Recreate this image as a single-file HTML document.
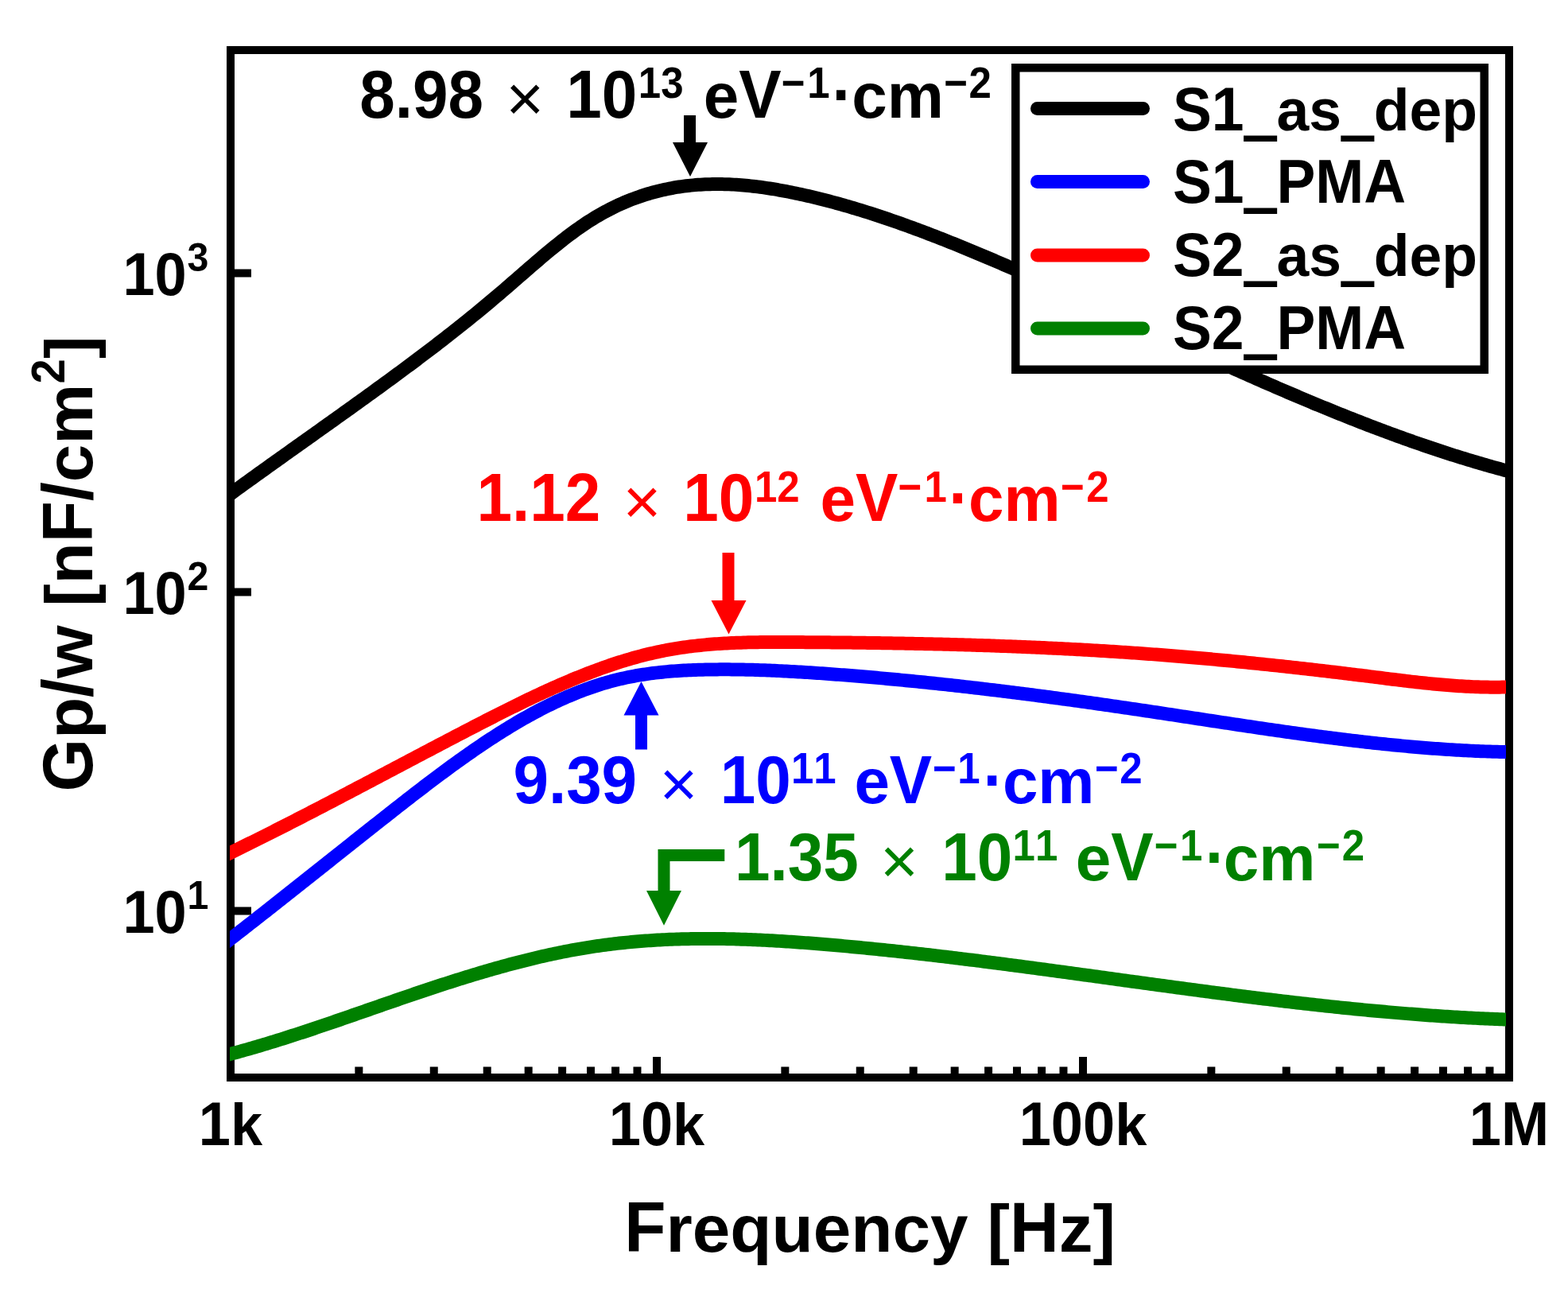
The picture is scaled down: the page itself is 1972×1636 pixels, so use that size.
<!DOCTYPE html>
<html><head><meta charset="utf-8"><title>Gp/w vs Frequency</title>
<style>html,body{margin:0;padding:0;background:#fff;overflow:hidden;}svg{display:block;}
text{font-family:"Liberation Sans",Arial,Helvetica,sans-serif;font-kerning:none;white-space:pre;}</style></head>
<body>
<svg width="1972" height="1636" viewBox="0 0 1972 1636">
<rect x="0" y="0" width="1972" height="1636" fill="#fff"/>
<rect x="290" y="63" width="1608" height="1292" fill="none" stroke="#000" stroke-width="10"/>
<g fill="#000">
<rect x="446.35" y="1341.5" width="10" height="9"/>
<rect x="540.74" y="1341.5" width="10" height="9"/>
<rect x="607.70" y="1341.5" width="10" height="9"/>
<rect x="659.65" y="1341.5" width="10" height="9"/>
<rect x="702.09" y="1341.5" width="10" height="9"/>
<rect x="737.97" y="1341.5" width="10" height="9"/>
<rect x="769.06" y="1341.5" width="10" height="9"/>
<rect x="796.47" y="1341.5" width="10" height="9"/>
<rect x="982.35" y="1341.5" width="10" height="9"/>
<rect x="1076.74" y="1341.5" width="10" height="9"/>
<rect x="1143.70" y="1341.5" width="10" height="9"/>
<rect x="1195.65" y="1341.5" width="10" height="9"/>
<rect x="1238.09" y="1341.5" width="10" height="9"/>
<rect x="1273.97" y="1341.5" width="10" height="9"/>
<rect x="1305.06" y="1341.5" width="10" height="9"/>
<rect x="1332.47" y="1341.5" width="10" height="9"/>
<rect x="1518.35" y="1341.5" width="10" height="9"/>
<rect x="1612.74" y="1341.5" width="10" height="9"/>
<rect x="1679.70" y="1341.5" width="10" height="9"/>
<rect x="1731.65" y="1341.5" width="10" height="9"/>
<rect x="1774.09" y="1341.5" width="10" height="9"/>
<rect x="1809.97" y="1341.5" width="10" height="9"/>
<rect x="1841.06" y="1341.5" width="10" height="9"/>
<rect x="1868.47" y="1341.5" width="10" height="9"/>
<rect x="821.00" y="1329" width="10" height="22"/>
<rect x="1357.00" y="1329" width="10" height="22"/>
<rect x="294" y="338.50" width="22" height="10"/>
<rect x="294" y="739.50" width="22" height="10"/>
<rect x="294" y="1140.50" width="22" height="10"/>
</g>
<defs><clipPath id="pc"><rect x="289" y="0" width="1605" height="1636"/></clipPath></defs>
<g clip-path="url(#pc)">
<path d="M284.0,625.40 L290.0,621.03 L293.0,618.85 L296.0,616.67 L299.0,614.49 L302.0,612.32 L305.0,610.15 L308.0,607.98 L311.0,605.81 L314.0,603.65 L317.0,601.49 L320.0,599.33 L323.0,597.18 L326.0,595.02 L329.0,592.87 L332.0,590.72 L335.0,588.57 L338.0,586.43 L341.0,584.28 L344.0,582.14 L347.0,580.00 L350.0,577.86 L353.0,575.72 L356.0,573.58 L359.0,571.44 L362.0,569.31 L365.0,567.17 L368.0,565.04 L371.0,562.90 L374.0,560.77 L377.0,558.63 L380.0,556.50 L383.0,554.37 L386.0,552.24 L389.0,550.10 L392.0,547.97 L395.0,545.84 L398.0,543.70 L401.0,541.57 L404.0,539.43 L407.0,537.30 L410.0,535.16 L413.0,533.02 L416.0,530.89 L419.0,528.75 L422.0,526.61 L425.0,524.46 L428.0,522.32 L431.0,520.18 L434.0,518.03 L437.0,515.88 L440.0,513.73 L443.0,511.58 L446.0,509.42 L449.0,507.27 L452.0,505.11 L455.0,502.95 L458.0,500.79 L461.0,498.62 L464.0,496.45 L467.0,494.28 L470.0,492.11 L473.0,489.93 L476.0,487.75 L479.0,485.56 L482.0,483.38 L485.0,481.19 L488.0,478.99 L491.0,476.80 L494.0,474.59 L497.0,472.39 L500.0,470.18 L503.0,467.97 L506.0,465.75 L509.0,463.53 L512.0,461.30 L515.0,459.07 L518.0,456.83 L521.0,454.59 L524.0,452.34 L527.0,450.08 L530.0,447.82 L533.0,445.56 L536.0,443.28 L539.0,441.00 L542.0,438.72 L545.0,436.43 L548.0,434.13 L551.0,431.82 L554.0,429.50 L557.0,427.18 L560.0,424.85 L563.0,422.52 L566.0,420.17 L569.0,417.82 L572.0,415.45 L575.0,413.08 L578.0,410.70 L581.0,408.32 L584.0,405.92 L587.0,403.51 L590.0,401.09 L593.0,398.67 L596.0,396.23 L599.0,393.79 L602.0,391.33 L605.0,388.86 L608.0,386.38 L611.0,383.90 L614.0,381.40 L617.0,378.89 L620.0,376.36 L623.0,373.83 L626.0,371.29 L629.0,368.73 L632.0,366.16 L635.0,363.58 L638.0,360.99 L641.0,358.39 L644.0,355.79 L647.0,353.18 L650.0,350.57 L653.0,347.96 L656.0,345.34 L659.0,342.73 L662.0,340.13 L665.0,337.52 L668.0,334.93 L671.0,332.34 L674.0,329.76 L677.0,327.19 L680.0,324.64 L683.0,322.10 L686.0,319.58 L689.0,317.07 L692.0,314.58 L695.0,312.12 L698.0,309.67 L701.0,307.26 L704.0,304.86 L707.0,302.50 L710.0,300.16 L713.0,297.85 L716.0,295.58 L719.0,293.33 L722.0,291.13 L725.0,288.96 L728.0,286.83 L731.0,284.74 L734.0,282.69 L737.0,280.68 L740.0,278.72 L743.0,276.81 L746.0,274.94 L749.0,273.11 L752.0,271.33 L755.0,269.60 L758.0,267.91 L761.0,266.27 L764.0,264.67 L767.0,263.11 L770.0,261.59 L773.0,260.12 L776.0,258.69 L779.0,257.30 L782.0,255.95 L785.0,254.65 L788.0,253.38 L791.0,252.16 L794.0,250.97 L797.0,249.82 L800.0,248.72 L803.0,247.65 L806.0,246.62 L809.0,245.63 L812.0,244.67 L815.0,243.75 L818.0,242.87 L821.0,242.03 L824.0,241.22 L827.0,240.44 L830.0,239.71 L833.0,239.00 L836.0,238.33 L839.0,237.70 L842.0,237.10 L845.0,236.53 L848.0,235.99 L851.0,235.49 L854.0,235.02 L857.0,234.58 L860.0,234.17 L863.0,233.79 L866.0,233.45 L869.0,233.13 L872.0,232.84 L875.0,232.58 L878.0,232.35 L881.0,232.15 L884.0,231.98 L887.0,231.84 L890.0,231.72 L893.0,231.63 L896.0,231.57 L899.0,231.53 L902.0,231.52 L905.0,231.53 L908.0,231.57 L911.0,231.64 L914.0,231.72 L917.0,231.84 L920.0,231.97 L923.0,232.13 L926.0,232.31 L929.0,232.51 L932.0,232.74 L935.0,232.99 L938.0,233.25 L941.0,233.54 L944.0,233.85 L947.0,234.18 L950.0,234.53 L953.0,234.90 L956.0,235.29 L959.0,235.69 L962.0,236.11 L965.0,236.56 L968.0,237.01 L971.0,237.49 L974.0,237.98 L977.0,238.49 L980.0,239.01 L983.0,239.55 L986.0,240.11 L989.0,240.67 L992.0,241.26 L995.0,241.85 L998.0,242.46 L1001.0,243.09 L1004.0,243.72 L1007.0,244.37 L1010.0,245.03 L1013.0,245.70 L1016.0,246.38 L1019.0,247.08 L1022.0,247.79 L1025.0,248.51 L1028.0,249.23 L1031.0,249.98 L1034.0,250.73 L1037.0,251.49 L1040.0,252.27 L1043.0,253.05 L1046.0,253.85 L1049.0,254.65 L1052.0,255.47 L1055.0,256.30 L1058.0,257.14 L1061.0,257.98 L1064.0,258.84 L1067.0,259.71 L1070.0,260.59 L1073.0,261.48 L1076.0,262.37 L1079.0,263.28 L1082.0,264.20 L1085.0,265.12 L1088.0,266.06 L1091.0,267.00 L1094.0,267.96 L1097.0,268.92 L1100.0,269.89 L1103.0,270.87 L1106.0,271.86 L1109.0,272.86 L1112.0,273.87 L1115.0,274.88 L1118.0,275.90 L1121.0,276.93 L1124.0,277.97 L1127.0,279.02 L1130.0,280.07 L1133.0,281.13 L1136.0,282.20 L1139.0,283.28 L1142.0,284.37 L1145.0,285.46 L1148.0,286.56 L1151.0,287.66 L1154.0,288.78 L1157.0,289.90 L1160.0,291.02 L1163.0,292.16 L1166.0,293.30 L1169.0,294.44 L1172.0,295.59 L1175.0,296.75 L1178.0,297.92 L1181.0,299.09 L1184.0,300.27 L1187.0,301.45 L1190.0,302.64 L1193.0,303.83 L1196.0,305.03 L1199.0,306.24 L1202.0,307.45 L1205.0,308.66 L1208.0,309.88 L1211.0,311.11 L1214.0,312.34 L1217.0,313.57 L1220.0,314.81 L1223.0,316.05 L1226.0,317.30 L1229.0,318.56 L1232.0,319.81 L1235.0,321.07 L1238.0,322.34 L1241.0,323.61 L1244.0,324.88 L1247.0,326.16 L1250.0,327.44 L1253.0,328.72 L1256.0,330.01 L1259.0,331.30 L1262.0,332.59 L1265.0,333.89 L1268.0,335.19 L1271.0,336.49 L1274.0,337.79 L1277.0,339.10 L1280.0,340.41 L1283.0,341.72 L1286.0,343.04 L1289.0,344.36 L1292.0,345.68 L1295.0,347.00 L1298.0,348.32 L1301.0,349.65 L1304.0,350.98 L1307.0,352.31 L1310.0,353.65 L1313.0,354.98 L1316.0,356.32 L1319.0,357.66 L1322.0,359.00 L1325.0,360.35 L1328.0,361.69 L1331.0,363.04 L1334.0,364.39 L1337.0,365.74 L1340.0,367.09 L1343.0,368.44 L1346.0,369.80 L1349.0,371.16 L1352.0,372.51 L1355.0,373.87 L1358.0,375.23 L1361.0,376.60 L1364.0,377.96 L1367.0,379.32 L1370.0,380.69 L1373.0,382.06 L1376.0,383.43 L1379.0,384.79 L1382.0,386.16 L1385.0,387.53 L1388.0,388.91 L1391.0,390.28 L1394.0,391.65 L1397.0,393.03 L1400.0,394.40 L1403.0,395.78 L1406.0,397.15 L1409.0,398.53 L1412.0,399.90 L1415.0,401.28 L1418.0,402.66 L1421.0,404.03 L1424.0,405.41 L1427.0,406.79 L1430.0,408.17 L1433.0,409.55 L1436.0,410.92 L1439.0,412.30 L1442.0,413.68 L1445.0,415.06 L1448.0,416.44 L1451.0,417.81 L1454.0,419.19 L1457.0,420.57 L1460.0,421.94 L1463.0,423.32 L1466.0,424.70 L1469.0,426.07 L1472.0,427.45 L1475.0,428.82 L1478.0,430.19 L1481.0,431.57 L1484.0,432.94 L1487.0,434.31 L1490.0,435.68 L1493.0,437.05 L1496.0,438.42 L1499.0,439.79 L1502.0,441.15 L1505.0,442.52 L1508.0,443.88 L1511.0,445.24 L1514.0,446.61 L1517.0,447.97 L1520.0,449.33 L1523.0,450.68 L1526.0,452.04 L1529.0,453.39 L1532.0,454.75 L1535.0,456.10 L1538.0,457.45 L1541.0,458.80 L1544.0,460.14 L1547.0,461.49 L1550.0,462.83 L1553.0,464.17 L1556.0,465.51 L1559.0,466.85 L1562.0,468.18 L1565.0,469.51 L1568.0,470.85 L1571.0,472.17 L1574.0,473.50 L1577.0,474.82 L1580.0,476.15 L1583.0,477.46 L1586.0,478.78 L1589.0,480.10 L1592.0,481.41 L1595.0,482.72 L1598.0,484.02 L1601.0,485.33 L1604.0,486.63 L1607.0,487.93 L1610.0,489.22 L1613.0,490.51 L1616.0,491.80 L1619.0,493.09 L1622.0,494.37 L1625.0,495.65 L1628.0,496.93 L1631.0,498.20 L1634.0,499.47 L1637.0,500.74 L1640.0,502.01 L1643.0,503.27 L1646.0,504.52 L1649.0,505.78 L1652.0,507.03 L1655.0,508.27 L1658.0,509.52 L1661.0,510.76 L1664.0,511.99 L1667.0,513.22 L1670.0,514.45 L1673.0,515.68 L1676.0,516.90 L1679.0,518.11 L1682.0,519.32 L1685.0,520.53 L1688.0,521.74 L1691.0,522.94 L1694.0,524.13 L1697.0,525.32 L1700.0,526.51 L1703.0,527.69 L1706.0,528.87 L1709.0,530.04 L1712.0,531.21 L1715.0,532.38 L1718.0,533.54 L1721.0,534.69 L1724.0,535.84 L1727.0,536.99 L1730.0,538.13 L1733.0,539.26 L1736.0,540.40 L1739.0,541.52 L1742.0,542.64 L1745.0,543.76 L1748.0,544.87 L1751.0,545.97 L1754.0,547.07 L1757.0,548.17 L1760.0,549.26 L1763.0,550.34 L1766.0,551.42 L1769.0,552.50 L1772.0,553.56 L1775.0,554.63 L1778.0,555.68 L1781.0,556.73 L1784.0,557.78 L1787.0,558.82 L1790.0,559.85 L1793.0,560.88 L1796.0,561.90 L1799.0,562.92 L1802.0,563.93 L1805.0,564.93 L1808.0,565.93 L1811.0,566.92 L1814.0,567.90 L1817.0,568.88 L1820.0,569.86 L1823.0,570.82 L1826.0,571.78 L1829.0,572.73 L1832.0,573.68 L1835.0,574.62 L1838.0,575.56 L1841.0,576.48 L1844.0,577.40 L1847.0,578.32 L1850.0,579.22 L1853.0,580.12 L1856.0,581.01 L1859.0,581.90 L1862.0,582.78 L1865.0,583.65 L1868.0,584.52 L1871.0,585.37 L1874.0,586.22 L1877.0,587.07 L1880.0,587.90 L1883.0,588.73 L1886.0,589.55 L1889.0,590.36 L1892.0,591.17 L1894.0,591.70 L1900.0,593.30" fill="none" stroke="#000" stroke-width="17" stroke-linejoin="round"/>
<path d="M284.0,1185.30 L290.0,1180.65 L293.0,1178.31 L296.0,1175.98 L299.0,1173.64 L302.0,1171.31 L305.0,1168.97 L308.0,1166.62 L311.0,1164.28 L314.0,1161.93 L317.0,1159.58 L320.0,1157.23 L323.0,1154.88 L326.0,1152.52 L329.0,1150.17 L332.0,1147.81 L335.0,1145.45 L338.0,1143.09 L341.0,1140.72 L344.0,1138.36 L347.0,1135.99 L350.0,1133.63 L353.0,1131.26 L356.0,1128.89 L359.0,1126.52 L362.0,1124.15 L365.0,1121.77 L368.0,1119.40 L371.0,1117.03 L374.0,1114.65 L377.0,1112.27 L380.0,1109.90 L383.0,1107.52 L386.0,1105.14 L389.0,1102.76 L392.0,1100.38 L395.0,1098.00 L398.0,1095.62 L401.0,1093.24 L404.0,1090.86 L407.0,1088.48 L410.0,1086.10 L413.0,1083.72 L416.0,1081.34 L419.0,1078.95 L422.0,1076.57 L425.0,1074.19 L428.0,1071.81 L431.0,1069.43 L434.0,1067.05 L437.0,1064.67 L440.0,1062.29 L443.0,1059.91 L446.0,1057.54 L449.0,1055.16 L452.0,1052.78 L455.0,1050.41 L458.0,1048.03 L461.0,1045.66 L464.0,1043.29 L467.0,1040.91 L470.0,1038.54 L473.0,1036.17 L476.0,1033.81 L479.0,1031.44 L482.0,1029.07 L485.0,1026.71 L488.0,1024.35 L491.0,1021.99 L494.0,1019.63 L497.0,1017.28 L500.0,1014.92 L503.0,1012.58 L506.0,1010.23 L509.0,1007.89 L512.0,1005.56 L515.0,1003.23 L518.0,1000.90 L521.0,998.58 L524.0,996.27 L527.0,993.96 L530.0,991.66 L533.0,989.37 L536.0,987.08 L539.0,984.80 L542.0,982.53 L545.0,980.26 L548.0,978.01 L551.0,975.76 L554.0,973.52 L557.0,971.30 L560.0,969.08 L563.0,966.87 L566.0,964.67 L569.0,962.49 L572.0,960.31 L575.0,958.14 L578.0,955.99 L581.0,953.85 L584.0,951.72 L587.0,949.61 L590.0,947.50 L593.0,945.41 L596.0,943.34 L599.0,941.28 L602.0,939.23 L605.0,937.19 L608.0,935.18 L611.0,933.17 L614.0,931.19 L617.0,929.22 L620.0,927.26 L623.0,925.32 L626.0,923.40 L629.0,921.50 L632.0,919.61 L635.0,917.74 L638.0,915.89 L641.0,914.06 L644.0,912.25 L647.0,910.45 L650.0,908.68 L653.0,906.92 L656.0,905.19 L659.0,903.48 L662.0,901.78 L665.0,900.11 L668.0,898.46 L671.0,896.83 L674.0,895.22 L677.0,893.63 L680.0,892.06 L683.0,890.52 L686.0,889.00 L689.0,887.50 L692.0,886.02 L695.0,884.57 L698.0,883.14 L701.0,881.73 L704.0,880.35 L707.0,878.99 L710.0,877.66 L713.0,876.34 L716.0,875.06 L719.0,873.80 L722.0,872.56 L725.0,871.35 L728.0,870.16 L731.0,869.00 L734.0,867.86 L737.0,866.75 L740.0,865.67 L743.0,864.62 L746.0,863.59 L749.0,862.58 L752.0,861.61 L755.0,860.66 L758.0,859.74 L761.0,858.84 L764.0,857.98 L767.0,857.14 L770.0,856.33 L773.0,855.55 L776.0,854.80 L779.0,854.07 L782.0,853.38 L785.0,852.71 L788.0,852.06 L791.0,851.44 L794.0,850.85 L797.0,850.28 L800.0,849.73 L803.0,849.21 L806.0,848.71 L809.0,848.24 L812.0,847.78 L815.0,847.35 L818.0,846.94 L821.0,846.55 L824.0,846.18 L827.0,845.82 L830.0,845.49 L833.0,845.18 L836.0,844.88 L839.0,844.60 L842.0,844.34 L845.0,844.09 L848.0,843.87 L851.0,843.65 L854.0,843.45 L857.0,843.27 L860.0,843.10 L863.0,842.94 L866.0,842.80 L869.0,842.66 L872.0,842.54 L875.0,842.43 L878.0,842.34 L881.0,842.25 L884.0,842.17 L887.0,842.10 L890.0,842.04 L893.0,841.99 L896.0,841.95 L899.0,841.92 L902.0,841.89 L905.0,841.87 L908.0,841.86 L911.0,841.86 L914.0,841.86 L917.0,841.87 L920.0,841.89 L923.0,841.92 L926.0,841.95 L929.0,841.99 L932.0,842.04 L935.0,842.09 L938.0,842.15 L941.0,842.22 L944.0,842.29 L947.0,842.37 L950.0,842.46 L953.0,842.55 L956.0,842.64 L959.0,842.75 L962.0,842.86 L965.0,842.97 L968.0,843.09 L971.0,843.21 L974.0,843.34 L977.0,843.48 L980.0,843.62 L983.0,843.76 L986.0,843.91 L989.0,844.07 L992.0,844.23 L995.0,844.39 L998.0,844.56 L1001.0,844.73 L1004.0,844.90 L1007.0,845.08 L1010.0,845.26 L1013.0,845.45 L1016.0,845.64 L1019.0,845.84 L1022.0,846.03 L1025.0,846.23 L1028.0,846.44 L1031.0,846.64 L1034.0,846.85 L1037.0,847.06 L1040.0,847.28 L1043.0,847.49 L1046.0,847.71 L1049.0,847.93 L1052.0,848.16 L1055.0,848.38 L1058.0,848.61 L1061.0,848.84 L1064.0,849.08 L1067.0,849.31 L1070.0,849.55 L1073.0,849.79 L1076.0,850.04 L1079.0,850.28 L1082.0,850.53 L1085.0,850.78 L1088.0,851.03 L1091.0,851.29 L1094.0,851.55 L1097.0,851.80 L1100.0,852.07 L1103.0,852.33 L1106.0,852.60 L1109.0,852.87 L1112.0,853.14 L1115.0,853.41 L1118.0,853.68 L1121.0,853.96 L1124.0,854.24 L1127.0,854.52 L1130.0,854.81 L1133.0,855.09 L1136.0,855.38 L1139.0,855.67 L1142.0,855.96 L1145.0,856.26 L1148.0,856.55 L1151.0,856.85 L1154.0,857.15 L1157.0,857.46 L1160.0,857.76 L1163.0,858.07 L1166.0,858.38 L1169.0,858.69 L1172.0,859.00 L1175.0,859.31 L1178.0,859.63 L1181.0,859.95 L1184.0,860.27 L1187.0,860.59 L1190.0,860.92 L1193.0,861.24 L1196.0,861.57 L1199.0,861.90 L1202.0,862.24 L1205.0,862.57 L1208.0,862.91 L1211.0,863.24 L1214.0,863.58 L1217.0,863.93 L1220.0,864.27 L1223.0,864.61 L1226.0,864.96 L1229.0,865.31 L1232.0,865.66 L1235.0,866.01 L1238.0,866.37 L1241.0,866.72 L1244.0,867.08 L1247.0,867.44 L1250.0,867.80 L1253.0,868.16 L1256.0,868.53 L1259.0,868.89 L1262.0,869.26 L1265.0,869.63 L1268.0,870.00 L1271.0,870.37 L1274.0,870.75 L1277.0,871.13 L1280.0,871.50 L1283.0,871.88 L1286.0,872.26 L1289.0,872.65 L1292.0,873.03 L1295.0,873.41 L1298.0,873.80 L1301.0,874.19 L1304.0,874.58 L1307.0,874.97 L1310.0,875.36 L1313.0,875.76 L1316.0,876.15 L1319.0,876.55 L1322.0,876.95 L1325.0,877.35 L1328.0,877.75 L1331.0,878.16 L1334.0,878.56 L1337.0,878.97 L1340.0,879.37 L1343.0,879.78 L1346.0,880.19 L1349.0,880.60 L1352.0,881.02 L1355.0,881.43 L1358.0,881.85 L1361.0,882.26 L1364.0,882.68 L1367.0,883.10 L1370.0,883.52 L1373.0,883.94 L1376.0,884.37 L1379.0,884.79 L1382.0,885.22 L1385.0,885.64 L1388.0,886.07 L1391.0,886.50 L1394.0,886.93 L1397.0,887.36 L1400.0,887.79 L1403.0,888.23 L1406.0,888.66 L1409.0,889.10 L1412.0,889.54 L1415.0,889.98 L1418.0,890.41 L1421.0,890.86 L1424.0,891.30 L1427.0,891.74 L1430.0,892.18 L1433.0,892.63 L1436.0,893.07 L1439.0,893.52 L1442.0,893.97 L1445.0,894.42 L1448.0,894.87 L1451.0,895.32 L1454.0,895.77 L1457.0,896.22 L1460.0,896.67 L1463.0,897.13 L1466.0,897.58 L1469.0,898.04 L1472.0,898.49 L1475.0,898.95 L1478.0,899.40 L1481.0,899.86 L1484.0,900.32 L1487.0,900.78 L1490.0,901.23 L1493.0,901.69 L1496.0,902.15 L1499.0,902.61 L1502.0,903.07 L1505.0,903.52 L1508.0,903.98 L1511.0,904.44 L1514.0,904.90 L1517.0,905.36 L1520.0,905.81 L1523.0,906.27 L1526.0,906.73 L1529.0,907.18 L1532.0,907.64 L1535.0,908.10 L1538.0,908.55 L1541.0,909.01 L1544.0,909.46 L1547.0,909.92 L1550.0,910.37 L1553.0,910.82 L1556.0,911.27 L1559.0,911.72 L1562.0,912.17 L1565.0,912.62 L1568.0,913.07 L1571.0,913.52 L1574.0,913.96 L1577.0,914.41 L1580.0,914.85 L1583.0,915.29 L1586.0,915.73 L1589.0,916.17 L1592.0,916.61 L1595.0,917.05 L1598.0,917.48 L1601.0,917.92 L1604.0,918.35 L1607.0,918.78 L1610.0,919.21 L1613.0,919.64 L1616.0,920.07 L1619.0,920.49 L1622.0,920.91 L1625.0,921.33 L1628.0,921.75 L1631.0,922.17 L1634.0,922.58 L1637.0,923.00 L1640.0,923.41 L1643.0,923.82 L1646.0,924.22 L1649.0,924.63 L1652.0,925.03 L1655.0,925.43 L1658.0,925.82 L1661.0,926.22 L1664.0,926.61 L1667.0,927.00 L1670.0,927.39 L1673.0,927.77 L1676.0,928.15 L1679.0,928.53 L1682.0,928.91 L1685.0,929.28 L1688.0,929.65 L1691.0,930.02 L1694.0,930.38 L1697.0,930.75 L1700.0,931.10 L1703.0,931.46 L1706.0,931.81 L1709.0,932.16 L1712.0,932.51 L1715.0,932.85 L1718.0,933.19 L1721.0,933.53 L1724.0,933.86 L1727.0,934.19 L1730.0,934.51 L1733.0,934.84 L1736.0,935.15 L1739.0,935.47 L1742.0,935.78 L1745.0,936.09 L1748.0,936.39 L1751.0,936.69 L1754.0,936.99 L1757.0,937.28 L1760.0,937.57 L1763.0,937.85 L1766.0,938.13 L1769.0,938.41 L1772.0,938.68 L1775.0,938.94 L1778.0,939.21 L1781.0,939.47 L1784.0,939.72 L1787.0,939.97 L1790.0,940.22 L1793.0,940.46 L1796.0,940.69 L1799.0,940.93 L1802.0,941.15 L1805.0,941.37 L1808.0,941.59 L1811.0,941.81 L1814.0,942.01 L1817.0,942.22 L1820.0,942.41 L1823.0,942.61 L1826.0,942.80 L1829.0,942.98 L1832.0,943.16 L1835.0,943.33 L1838.0,943.50 L1841.0,943.66 L1844.0,943.82 L1847.0,943.97 L1850.0,944.12 L1853.0,944.26 L1856.0,944.39 L1859.0,944.52 L1862.0,944.65 L1865.0,944.76 L1868.0,944.88 L1871.0,944.98 L1874.0,945.09 L1877.0,945.18 L1880.0,945.27 L1883.0,945.35 L1886.0,945.43 L1889.0,945.50 L1892.0,945.57 L1894.0,945.61 L1900.0,945.73" fill="none" stroke="#00f" stroke-width="17" stroke-linejoin="round"/>
<path d="M284.0,1075.17 L290.0,1072.26 L293.0,1070.80 L296.0,1069.33 L299.0,1067.86 L302.0,1066.39 L305.0,1064.92 L308.0,1063.44 L311.0,1061.96 L314.0,1060.48 L317.0,1058.99 L320.0,1057.50 L323.0,1056.01 L326.0,1054.51 L329.0,1053.01 L332.0,1051.51 L335.0,1050.00 L338.0,1048.49 L341.0,1046.98 L344.0,1045.47 L347.0,1043.95 L350.0,1042.43 L353.0,1040.91 L356.0,1039.38 L359.0,1037.86 L362.0,1036.33 L365.0,1034.79 L368.0,1033.26 L371.0,1031.72 L374.0,1030.18 L377.0,1028.64 L380.0,1027.10 L383.0,1025.55 L386.0,1024.01 L389.0,1022.46 L392.0,1020.91 L395.0,1019.35 L398.0,1017.80 L401.0,1016.24 L404.0,1014.68 L407.0,1013.12 L410.0,1011.56 L413.0,1010.00 L416.0,1008.43 L419.0,1006.87 L422.0,1005.30 L425.0,1003.73 L428.0,1002.16 L431.0,1000.59 L434.0,999.02 L437.0,997.45 L440.0,995.87 L443.0,994.30 L446.0,992.72 L449.0,991.14 L452.0,989.57 L455.0,987.99 L458.0,986.41 L461.0,984.83 L464.0,983.25 L467.0,981.67 L470.0,980.08 L473.0,978.50 L476.0,976.92 L479.0,975.34 L482.0,973.75 L485.0,972.17 L488.0,970.59 L491.0,969.00 L494.0,967.42 L497.0,965.83 L500.0,964.25 L503.0,962.67 L506.0,961.08 L509.0,959.50 L512.0,957.92 L515.0,956.33 L518.0,954.75 L521.0,953.17 L524.0,951.59 L527.0,950.01 L530.0,948.43 L533.0,946.85 L536.0,945.27 L539.0,943.69 L542.0,942.11 L545.0,940.53 L548.0,938.96 L551.0,937.38 L554.0,935.81 L557.0,934.24 L560.0,932.66 L563.0,931.09 L566.0,929.52 L569.0,927.96 L572.0,926.39 L575.0,924.82 L578.0,923.26 L581.0,921.70 L584.0,920.14 L587.0,918.58 L590.0,917.02 L593.0,915.46 L596.0,913.91 L599.0,912.36 L602.0,910.81 L605.0,909.26 L608.0,907.72 L611.0,906.18 L614.0,904.64 L617.0,903.11 L620.0,901.58 L623.0,900.05 L626.0,898.53 L629.0,897.01 L632.0,895.50 L635.0,894.00 L638.0,892.50 L641.0,891.00 L644.0,889.51 L647.0,888.03 L650.0,886.55 L653.0,885.08 L656.0,883.62 L659.0,882.17 L662.0,880.72 L665.0,879.28 L668.0,877.85 L671.0,876.42 L674.0,875.01 L677.0,873.60 L680.0,872.20 L683.0,870.81 L686.0,869.43 L689.0,868.06 L692.0,866.70 L695.0,865.35 L698.0,864.01 L701.0,862.68 L704.0,861.37 L707.0,860.06 L710.0,858.77 L713.0,857.48 L716.0,856.21 L719.0,854.95 L722.0,853.70 L725.0,852.47 L728.0,851.25 L731.0,850.04 L734.0,848.85 L737.0,847.66 L740.0,846.50 L743.0,845.34 L746.0,844.21 L749.0,843.08 L752.0,841.97 L755.0,840.88 L758.0,839.80 L761.0,838.74 L764.0,837.69 L767.0,836.66 L770.0,835.65 L773.0,834.65 L776.0,833.67 L779.0,832.71 L782.0,831.76 L785.0,830.83 L788.0,829.92 L791.0,829.03 L794.0,828.15 L797.0,827.30 L800.0,826.46 L803.0,825.65 L806.0,824.85 L809.0,824.07 L812.0,823.31 L815.0,822.57 L818.0,821.86 L821.0,821.16 L824.0,820.48 L827.0,819.83 L830.0,819.19 L833.0,818.58 L836.0,817.99 L839.0,817.42 L842.0,816.87 L845.0,816.34 L848.0,815.83 L851.0,815.34 L854.0,814.87 L857.0,814.42 L860.0,813.99 L863.0,813.57 L866.0,813.17 L869.0,812.79 L872.0,812.43 L875.0,812.08 L878.0,811.75 L881.0,811.43 L884.0,811.13 L887.0,810.85 L890.0,810.58 L893.0,810.32 L896.0,810.08 L899.0,809.85 L902.0,809.64 L905.0,809.43 L908.0,809.24 L911.0,809.07 L914.0,808.90 L917.0,808.75 L920.0,808.60 L923.0,808.47 L926.0,808.35 L929.0,808.23 L932.0,808.13 L935.0,808.04 L938.0,807.95 L941.0,807.87 L944.0,807.81 L947.0,807.75 L950.0,807.69 L953.0,807.65 L956.0,807.61 L959.0,807.57 L962.0,807.54 L965.0,807.52 L968.0,807.51 L971.0,807.49 L974.0,807.49 L977.0,807.48 L980.0,807.48 L983.0,807.49 L986.0,807.49 L989.0,807.50 L992.0,807.51 L995.0,807.52 L998.0,807.54 L1001.0,807.56 L1004.0,807.57 L1007.0,807.59 L1010.0,807.61 L1013.0,807.63 L1016.0,807.64 L1019.0,807.66 L1022.0,807.68 L1025.0,807.71 L1028.0,807.73 L1031.0,807.75 L1034.0,807.77 L1037.0,807.80 L1040.0,807.82 L1043.0,807.85 L1046.0,807.88 L1049.0,807.90 L1052.0,807.93 L1055.0,807.96 L1058.0,807.99 L1061.0,808.02 L1064.0,808.05 L1067.0,808.09 L1070.0,808.12 L1073.0,808.15 L1076.0,808.19 L1079.0,808.22 L1082.0,808.26 L1085.0,808.30 L1088.0,808.34 L1091.0,808.38 L1094.0,808.42 L1097.0,808.46 L1100.0,808.50 L1103.0,808.55 L1106.0,808.59 L1109.0,808.64 L1112.0,808.68 L1115.0,808.73 L1118.0,808.78 L1121.0,808.83 L1124.0,808.88 L1127.0,808.93 L1130.0,808.98 L1133.0,809.04 L1136.0,809.09 L1139.0,809.15 L1142.0,809.20 L1145.0,809.26 L1148.0,809.32 L1151.0,809.38 L1154.0,809.44 L1157.0,809.51 L1160.0,809.57 L1163.0,809.64 L1166.0,809.70 L1169.0,809.77 L1172.0,809.84 L1175.0,809.91 L1178.0,809.98 L1181.0,810.05 L1184.0,810.12 L1187.0,810.20 L1190.0,810.28 L1193.0,810.35 L1196.0,810.43 L1199.0,810.51 L1202.0,810.59 L1205.0,810.68 L1208.0,810.76 L1211.0,810.84 L1214.0,810.93 L1217.0,811.02 L1220.0,811.11 L1223.0,811.20 L1226.0,811.29 L1229.0,811.38 L1232.0,811.48 L1235.0,811.58 L1238.0,811.67 L1241.0,811.77 L1244.0,811.87 L1247.0,811.97 L1250.0,812.08 L1253.0,812.18 L1256.0,812.29 L1259.0,812.40 L1262.0,812.51 L1265.0,812.62 L1268.0,812.73 L1271.0,812.84 L1274.0,812.96 L1277.0,813.08 L1280.0,813.20 L1283.0,813.32 L1286.0,813.44 L1289.0,813.56 L1292.0,813.69 L1295.0,813.81 L1298.0,813.94 L1301.0,814.07 L1304.0,814.20 L1307.0,814.34 L1310.0,814.47 L1313.0,814.61 L1316.0,814.75 L1319.0,814.89 L1322.0,815.03 L1325.0,815.17 L1328.0,815.32 L1331.0,815.46 L1334.0,815.61 L1337.0,815.76 L1340.0,815.91 L1343.0,816.07 L1346.0,816.22 L1349.0,816.38 L1352.0,816.54 L1355.0,816.70 L1358.0,816.86 L1361.0,817.03 L1364.0,817.19 L1367.0,817.36 L1370.0,817.53 L1373.0,817.70 L1376.0,817.88 L1379.0,818.05 L1382.0,818.23 L1385.0,818.41 L1388.0,818.59 L1391.0,818.78 L1394.0,818.96 L1397.0,819.15 L1400.0,819.34 L1403.0,819.53 L1406.0,819.72 L1409.0,819.92 L1412.0,820.12 L1415.0,820.31 L1418.0,820.52 L1421.0,820.72 L1424.0,820.92 L1427.0,821.13 L1430.0,821.34 L1433.0,821.55 L1436.0,821.77 L1439.0,821.98 L1442.0,822.20 L1445.0,822.42 L1448.0,822.64 L1451.0,822.87 L1454.0,823.09 L1457.0,823.32 L1460.0,823.55 L1463.0,823.78 L1466.0,824.02 L1469.0,824.25 L1472.0,824.49 L1475.0,824.73 L1478.0,824.97 L1481.0,825.22 L1484.0,825.47 L1487.0,825.71 L1490.0,825.96 L1493.0,826.22 L1496.0,826.47 L1499.0,826.73 L1502.0,826.98 L1505.0,827.24 L1508.0,827.51 L1511.0,827.77 L1514.0,828.04 L1517.0,828.30 L1520.0,828.57 L1523.0,828.84 L1526.0,829.12 L1529.0,829.39 L1532.0,829.67 L1535.0,829.95 L1538.0,830.23 L1541.0,830.51 L1544.0,830.79 L1547.0,831.08 L1550.0,831.37 L1553.0,831.66 L1556.0,831.95 L1559.0,832.24 L1562.0,832.54 L1565.0,832.83 L1568.0,833.13 L1571.0,833.43 L1574.0,833.73 L1577.0,834.04 L1580.0,834.34 L1583.0,834.65 L1586.0,834.96 L1589.0,835.27 L1592.0,835.58 L1595.0,835.89 L1598.0,836.21 L1601.0,836.52 L1604.0,836.84 L1607.0,837.16 L1610.0,837.48 L1613.0,837.81 L1616.0,838.13 L1619.0,838.46 L1622.0,838.79 L1625.0,839.11 L1628.0,839.45 L1631.0,839.78 L1634.0,840.11 L1637.0,840.45 L1640.0,840.78 L1643.0,841.12 L1646.0,841.46 L1649.0,841.81 L1652.0,842.15 L1655.0,842.49 L1658.0,842.84 L1661.0,843.19 L1664.0,843.54 L1667.0,843.89 L1670.0,844.24 L1673.0,844.59 L1676.0,844.95 L1679.0,845.30 L1682.0,845.66 L1685.0,846.02 L1688.0,846.38 L1691.0,846.74 L1694.0,847.10 L1697.0,847.47 L1700.0,847.83 L1703.0,848.20 L1706.0,848.57 L1709.0,848.94 L1712.0,849.31 L1715.0,849.68 L1718.0,850.05 L1721.0,850.43 L1724.0,850.81 L1727.0,851.18 L1730.0,851.56 L1733.0,851.94 L1736.0,852.31 L1739.0,852.69 L1742.0,853.07 L1745.0,853.44 L1748.0,853.82 L1751.0,854.19 L1754.0,854.56 L1757.0,854.93 L1760.0,855.29 L1763.0,855.66 L1766.0,856.02 L1769.0,856.37 L1772.0,856.72 L1775.0,857.07 L1778.0,857.41 L1781.0,857.75 L1784.0,858.09 L1787.0,858.41 L1790.0,858.74 L1793.0,859.05 L1796.0,859.36 L1799.0,859.67 L1802.0,859.96 L1805.0,860.25 L1808.0,860.53 L1811.0,860.80 L1814.0,861.07 L1817.0,861.33 L1820.0,861.57 L1823.0,861.81 L1826.0,862.04 L1829.0,862.26 L1832.0,862.47 L1835.0,862.67 L1838.0,862.85 L1841.0,863.03 L1844.0,863.20 L1847.0,863.35 L1850.0,863.49 L1853.0,863.62 L1856.0,863.74 L1859.0,863.84 L1862.0,863.93 L1865.0,864.01 L1868.0,864.07 L1871.0,864.12 L1874.0,864.15 L1877.0,864.17 L1880.0,864.18 L1883.0,864.16 L1886.0,864.14 L1889.0,864.09 L1892.0,864.03 L1894.0,863.98 L1900.0,863.83" fill="none" stroke="#f00" stroke-width="17" stroke-linejoin="round"/>
<path d="M284.0,1326.94 L290.0,1325.35 L293.0,1324.55 L296.0,1323.75 L299.0,1322.93 L302.0,1322.11 L305.0,1321.27 L308.0,1320.43 L311.0,1319.58 L314.0,1318.73 L317.0,1317.87 L320.0,1317.00 L323.0,1316.12 L326.0,1315.24 L329.0,1314.34 L332.0,1313.45 L335.0,1312.54 L338.0,1311.63 L341.0,1310.72 L344.0,1309.79 L347.0,1308.86 L350.0,1307.93 L353.0,1306.99 L356.0,1306.04 L359.0,1305.09 L362.0,1304.14 L365.0,1303.17 L368.0,1302.21 L371.0,1301.24 L374.0,1300.26 L377.0,1299.28 L380.0,1298.30 L383.0,1297.31 L386.0,1296.32 L389.0,1295.32 L392.0,1294.32 L395.0,1293.32 L398.0,1292.31 L401.0,1291.30 L404.0,1290.29 L407.0,1289.27 L410.0,1288.25 L413.0,1287.23 L416.0,1286.21 L419.0,1285.18 L422.0,1284.15 L425.0,1283.12 L428.0,1282.09 L431.0,1281.05 L434.0,1280.02 L437.0,1278.98 L440.0,1277.94 L443.0,1276.90 L446.0,1275.86 L449.0,1274.82 L452.0,1273.77 L455.0,1272.73 L458.0,1271.69 L461.0,1270.64 L464.0,1269.60 L467.0,1268.55 L470.0,1267.51 L473.0,1266.47 L476.0,1265.42 L479.0,1264.38 L482.0,1263.34 L485.0,1262.30 L488.0,1261.26 L491.0,1260.22 L494.0,1259.18 L497.0,1258.14 L500.0,1257.11 L503.0,1256.07 L506.0,1255.04 L509.0,1254.01 L512.0,1252.99 L515.0,1251.96 L518.0,1250.94 L521.0,1249.92 L524.0,1248.91 L527.0,1247.89 L530.0,1246.88 L533.0,1245.87 L536.0,1244.87 L539.0,1243.87 L542.0,1242.87 L545.0,1241.88 L548.0,1240.89 L551.0,1239.91 L554.0,1238.93 L557.0,1237.95 L560.0,1236.98 L563.0,1236.01 L566.0,1235.05 L569.0,1234.09 L572.0,1233.13 L575.0,1232.18 L578.0,1231.24 L581.0,1230.30 L584.0,1229.37 L587.0,1228.44 L590.0,1227.52 L593.0,1226.60 L596.0,1225.69 L599.0,1224.79 L602.0,1223.89 L605.0,1223.00 L608.0,1222.11 L611.0,1221.23 L614.0,1220.36 L617.0,1219.50 L620.0,1218.64 L623.0,1217.78 L626.0,1216.94 L629.0,1216.10 L632.0,1215.27 L635.0,1214.45 L638.0,1213.63 L641.0,1212.83 L644.0,1212.03 L647.0,1211.23 L650.0,1210.45 L653.0,1209.67 L656.0,1208.91 L659.0,1208.15 L662.0,1207.40 L665.0,1206.66 L668.0,1205.92 L671.0,1205.20 L674.0,1204.49 L677.0,1203.78 L680.0,1203.08 L683.0,1202.40 L686.0,1201.72 L689.0,1201.05 L692.0,1200.40 L695.0,1199.75 L698.0,1199.11 L701.0,1198.48 L704.0,1197.87 L707.0,1197.26 L710.0,1196.66 L713.0,1196.08 L716.0,1195.50 L719.0,1194.94 L722.0,1194.39 L725.0,1193.85 L728.0,1193.32 L731.0,1192.80 L734.0,1192.29 L737.0,1191.79 L740.0,1191.31 L743.0,1190.84 L746.0,1190.38 L749.0,1189.93 L752.0,1189.49 L755.0,1189.07 L758.0,1188.66 L761.0,1188.25 L764.0,1187.86 L767.0,1187.48 L770.0,1187.11 L773.0,1186.76 L776.0,1186.41 L779.0,1186.07 L782.0,1185.75 L785.0,1185.44 L788.0,1185.13 L791.0,1184.84 L794.0,1184.55 L797.0,1184.28 L800.0,1184.02 L803.0,1183.77 L806.0,1183.52 L809.0,1183.29 L812.0,1183.07 L815.0,1182.86 L818.0,1182.65 L821.0,1182.46 L824.0,1182.27 L827.0,1182.10 L830.0,1181.93 L833.0,1181.77 L836.0,1181.63 L839.0,1181.49 L842.0,1181.36 L845.0,1181.24 L848.0,1181.12 L851.0,1181.02 L854.0,1180.92 L857.0,1180.84 L860.0,1180.76 L863.0,1180.69 L866.0,1180.63 L869.0,1180.57 L872.0,1180.53 L875.0,1180.49 L878.0,1180.46 L881.0,1180.43 L884.0,1180.42 L887.0,1180.41 L890.0,1180.41 L893.0,1180.42 L896.0,1180.43 L899.0,1180.45 L902.0,1180.48 L905.0,1180.51 L908.0,1180.56 L911.0,1180.60 L914.0,1180.66 L917.0,1180.72 L920.0,1180.79 L923.0,1180.87 L926.0,1180.95 L929.0,1181.03 L932.0,1181.13 L935.0,1181.23 L938.0,1181.33 L941.0,1181.44 L944.0,1181.56 L947.0,1181.68 L950.0,1181.81 L953.0,1181.94 L956.0,1182.08 L959.0,1182.23 L962.0,1182.37 L965.0,1182.53 L968.0,1182.69 L971.0,1182.85 L974.0,1183.02 L977.0,1183.19 L980.0,1183.37 L983.0,1183.56 L986.0,1183.74 L989.0,1183.93 L992.0,1184.13 L995.0,1184.33 L998.0,1184.53 L1001.0,1184.74 L1004.0,1184.95 L1007.0,1185.17 L1010.0,1185.39 L1013.0,1185.61 L1016.0,1185.84 L1019.0,1186.07 L1022.0,1186.30 L1025.0,1186.54 L1028.0,1186.78 L1031.0,1187.02 L1034.0,1187.27 L1037.0,1187.52 L1040.0,1187.77 L1043.0,1188.02 L1046.0,1188.28 L1049.0,1188.54 L1052.0,1188.80 L1055.0,1189.06 L1058.0,1189.33 L1061.0,1189.60 L1064.0,1189.87 L1067.0,1190.15 L1070.0,1190.42 L1073.0,1190.70 L1076.0,1190.98 L1079.0,1191.27 L1082.0,1191.56 L1085.0,1191.84 L1088.0,1192.14 L1091.0,1192.43 L1094.0,1192.73 L1097.0,1193.02 L1100.0,1193.33 L1103.0,1193.63 L1106.0,1193.93 L1109.0,1194.24 L1112.0,1194.55 L1115.0,1194.86 L1118.0,1195.17 L1121.0,1195.49 L1124.0,1195.81 L1127.0,1196.13 L1130.0,1196.45 L1133.0,1196.77 L1136.0,1197.10 L1139.0,1197.43 L1142.0,1197.76 L1145.0,1198.09 L1148.0,1198.42 L1151.0,1198.76 L1154.0,1199.10 L1157.0,1199.44 L1160.0,1199.78 L1163.0,1200.12 L1166.0,1200.46 L1169.0,1200.81 L1172.0,1201.16 L1175.0,1201.51 L1178.0,1201.86 L1181.0,1202.21 L1184.0,1202.57 L1187.0,1202.92 L1190.0,1203.28 L1193.0,1203.64 L1196.0,1204.00 L1199.0,1204.36 L1202.0,1204.73 L1205.0,1205.09 L1208.0,1205.46 L1211.0,1205.83 L1214.0,1206.20 L1217.0,1206.57 L1220.0,1206.94 L1223.0,1207.31 L1226.0,1207.69 L1229.0,1208.06 L1232.0,1208.44 L1235.0,1208.82 L1238.0,1209.20 L1241.0,1209.58 L1244.0,1209.96 L1247.0,1210.35 L1250.0,1210.73 L1253.0,1211.12 L1256.0,1211.51 L1259.0,1211.89 L1262.0,1212.28 L1265.0,1212.67 L1268.0,1213.06 L1271.0,1213.45 L1274.0,1213.85 L1277.0,1214.24 L1280.0,1214.64 L1283.0,1215.03 L1286.0,1215.43 L1289.0,1215.83 L1292.0,1216.22 L1295.0,1216.62 L1298.0,1217.02 L1301.0,1217.42 L1304.0,1217.82 L1307.0,1218.23 L1310.0,1218.63 L1313.0,1219.03 L1316.0,1219.44 L1319.0,1219.84 L1322.0,1220.25 L1325.0,1220.65 L1328.0,1221.06 L1331.0,1221.46 L1334.0,1221.87 L1337.0,1222.28 L1340.0,1222.69 L1343.0,1223.10 L1346.0,1223.51 L1349.0,1223.91 L1352.0,1224.32 L1355.0,1224.73 L1358.0,1225.14 L1361.0,1225.56 L1364.0,1225.97 L1367.0,1226.38 L1370.0,1226.79 L1373.0,1227.20 L1376.0,1227.61 L1379.0,1228.03 L1382.0,1228.44 L1385.0,1228.85 L1388.0,1229.26 L1391.0,1229.68 L1394.0,1230.09 L1397.0,1230.50 L1400.0,1230.91 L1403.0,1231.33 L1406.0,1231.74 L1409.0,1232.15 L1412.0,1232.56 L1415.0,1232.98 L1418.0,1233.39 L1421.0,1233.80 L1424.0,1234.21 L1427.0,1234.62 L1430.0,1235.04 L1433.0,1235.45 L1436.0,1235.86 L1439.0,1236.27 L1442.0,1236.68 L1445.0,1237.09 L1448.0,1237.50 L1451.0,1237.91 L1454.0,1238.32 L1457.0,1238.73 L1460.0,1239.13 L1463.0,1239.54 L1466.0,1239.95 L1469.0,1240.36 L1472.0,1240.76 L1475.0,1241.17 L1478.0,1241.57 L1481.0,1241.98 L1484.0,1242.38 L1487.0,1242.78 L1490.0,1243.19 L1493.0,1243.59 L1496.0,1243.99 L1499.0,1244.39 L1502.0,1244.79 L1505.0,1245.19 L1508.0,1245.59 L1511.0,1245.98 L1514.0,1246.38 L1517.0,1246.78 L1520.0,1247.17 L1523.0,1247.56 L1526.0,1247.96 L1529.0,1248.35 L1532.0,1248.74 L1535.0,1249.13 L1538.0,1249.52 L1541.0,1249.91 L1544.0,1250.29 L1547.0,1250.68 L1550.0,1251.06 L1553.0,1251.45 L1556.0,1251.83 L1559.0,1252.21 L1562.0,1252.59 L1565.0,1252.97 L1568.0,1253.35 L1571.0,1253.72 L1574.0,1254.10 L1577.0,1254.47 L1580.0,1254.84 L1583.0,1255.21 L1586.0,1255.58 L1589.0,1255.95 L1592.0,1256.32 L1595.0,1256.68 L1598.0,1257.05 L1601.0,1257.41 L1604.0,1257.77 L1607.0,1258.13 L1610.0,1258.49 L1613.0,1258.84 L1616.0,1259.20 L1619.0,1259.55 L1622.0,1259.90 L1625.0,1260.25 L1628.0,1260.60 L1631.0,1260.95 L1634.0,1261.29 L1637.0,1261.63 L1640.0,1261.97 L1643.0,1262.31 L1646.0,1262.65 L1649.0,1262.99 L1652.0,1263.32 L1655.0,1263.65 L1658.0,1263.98 L1661.0,1264.31 L1664.0,1264.63 L1667.0,1264.96 L1670.0,1265.28 L1673.0,1265.60 L1676.0,1265.92 L1679.0,1266.23 L1682.0,1266.55 L1685.0,1266.86 L1688.0,1267.17 L1691.0,1267.47 L1694.0,1267.78 L1697.0,1268.08 L1700.0,1268.38 L1703.0,1268.68 L1706.0,1268.98 L1709.0,1269.27 L1712.0,1269.56 L1715.0,1269.85 L1718.0,1270.14 L1721.0,1270.42 L1724.0,1270.70 L1727.0,1270.98 L1730.0,1271.26 L1733.0,1271.53 L1736.0,1271.81 L1739.0,1272.08 L1742.0,1272.34 L1745.0,1272.61 L1748.0,1272.87 L1751.0,1273.13 L1754.0,1273.38 L1757.0,1273.64 L1760.0,1273.89 L1763.0,1274.14 L1766.0,1274.38 L1769.0,1274.63 L1772.0,1274.87 L1775.0,1275.10 L1778.0,1275.34 L1781.0,1275.57 L1784.0,1275.80 L1787.0,1276.03 L1790.0,1276.25 L1793.0,1276.47 L1796.0,1276.69 L1799.0,1276.90 L1802.0,1277.11 L1805.0,1277.32 L1808.0,1277.53 L1811.0,1277.73 L1814.0,1277.93 L1817.0,1278.12 L1820.0,1278.32 L1823.0,1278.51 L1826.0,1278.69 L1829.0,1278.88 L1832.0,1279.06 L1835.0,1279.23 L1838.0,1279.41 L1841.0,1279.58 L1844.0,1279.74 L1847.0,1279.91 L1850.0,1280.07 L1853.0,1280.22 L1856.0,1280.38 L1859.0,1280.53 L1862.0,1280.67 L1865.0,1280.82 L1868.0,1280.96 L1871.0,1281.09 L1874.0,1281.23 L1877.0,1281.36 L1880.0,1281.48 L1883.0,1281.60 L1886.0,1281.72 L1889.0,1281.84 L1892.0,1281.95 L1894.0,1282.02 L1900.0,1282.23" fill="none" stroke="#008000" stroke-width="17" stroke-linejoin="round"/>
</g>
<rect x="1277.25" y="85.25" width="589.5" height="379.5" fill="#fff" stroke="#000" stroke-width="10.5"/>
<line x1="1304.5" y1="136.5" x2="1437.5" y2="136.5" stroke="#000" stroke-width="17" stroke-linecap="round"/>
<text x="0" y="0" transform="translate(1474.99,163.60) scale(1,1.067)" font-size="73.30" fill="#000" font-weight="bold">S1</text>
<text x="0" y="0" transform="translate(1564.64,154.00) scale(1,2.700)" font-size="73.30" fill="#000" font-weight="bold">_</text>
<text x="0" y="0" transform="translate(1605.41,163.60) scale(1,1.010)" font-size="73.30" fill="#000" font-weight="bold">as</text>
<text x="0" y="0" transform="translate(1686.94,154.00) scale(1,2.700)" font-size="73.30" fill="#000" font-weight="bold">_</text>
<text x="0" y="0" transform="translate(1727.71,163.60) scale(1,1.010)" font-size="73.30" fill="#000" font-weight="bold">dep</text>
<line x1="1304.5" y1="228.5" x2="1437.5" y2="228.5" stroke="#00f" stroke-width="17" stroke-linecap="round"/>
<text x="0" y="0" transform="translate(1474.99,255.00) scale(1,1.067)" font-size="73.30" fill="#000" font-weight="bold">S1</text>
<text x="0" y="0" transform="translate(1564.64,245.40) scale(1,2.700)" font-size="73.30" fill="#000" font-weight="bold">_</text>
<text x="0" y="0" transform="translate(1605.41,255.00) scale(1,1.067)" font-size="73.30" fill="#000" font-weight="bold">PMA</text>
<line x1="1304.5" y1="321.0" x2="1437.5" y2="321.0" stroke="#f00" stroke-width="17" stroke-linecap="round"/>
<text x="0" y="0" transform="translate(1474.99,347.00) scale(1,1.067)" font-size="73.30" fill="#000" font-weight="bold">S2</text>
<text x="0" y="0" transform="translate(1564.64,337.40) scale(1,2.700)" font-size="73.30" fill="#000" font-weight="bold">_</text>
<text x="0" y="0" transform="translate(1605.41,347.00) scale(1,1.010)" font-size="73.30" fill="#000" font-weight="bold">as</text>
<text x="0" y="0" transform="translate(1686.94,337.40) scale(1,2.700)" font-size="73.30" fill="#000" font-weight="bold">_</text>
<text x="0" y="0" transform="translate(1727.71,347.00) scale(1,1.010)" font-size="73.30" fill="#000" font-weight="bold">dep</text>
<line x1="1304.5" y1="413.0" x2="1437.5" y2="413.0" stroke="#008000" stroke-width="17" stroke-linecap="round"/>
<text x="0" y="0" transform="translate(1474.99,439.00) scale(1,1.067)" font-size="73.30" fill="#000" font-weight="bold">S2</text>
<text x="0" y="0" transform="translate(1564.64,429.40) scale(1,2.700)" font-size="73.30" fill="#000" font-weight="bold">_</text>
<text x="0" y="0" transform="translate(1605.41,439.00) scale(1,1.067)" font-size="73.30" fill="#000" font-weight="bold">PMA</text>
<polygon points="860.00,145.00 875.00,145.00 875.00,179.00 890.00,179.00 868.00,222.00 846.00,179.00 860.00,179.00" fill="#000"/>
<polygon points="908.50,695.00 923.50,695.00 923.50,755.00 938.50,755.00 916.50,797.50 894.50,755.00 908.50,755.00" fill="#f00"/>
<polygon points="799.00,942.50 814.00,942.50 814.00,899.50 828.50,899.50 806.50,857.00 784.50,899.50 799.00,899.50" fill="#00f"/>
<polygon points="827.50,1068.00 911.25,1068.00 911.25,1083.00 842.50,1083.00 842.50,1120.00 857.00,1120.00 835.00,1163.75 813.00,1120.00 827.50,1120.00" fill="#008000"/>
<text x="0" y="0" transform="translate(249.85,1440.00) scale(1,1.069)" font-size="72.20" fill="#000" font-weight="bold">1</text>
<text x="0" y="0" transform="translate(290.00,1440.00) scale(1,1.015)" font-size="72.20" fill="#000" font-weight="bold">k</text>
<text x="0" y="0" transform="translate(765.77,1440.00) scale(1,1.069)" font-size="72.20" fill="#000" font-weight="bold">10</text>
<text x="0" y="0" transform="translate(846.08,1440.00) scale(1,1.015)" font-size="72.20" fill="#000" font-weight="bold">k</text>
<text x="0" y="0" transform="translate(1281.69,1440.00) scale(1,1.069)" font-size="72.20" fill="#000" font-weight="bold">100</text>
<text x="0" y="0" transform="translate(1402.15,1440.00) scale(1,1.015)" font-size="72.20" fill="#000" font-weight="bold">k</text>
<text x="0" y="0" transform="translate(1847.85,1440.00) scale(1,1.069)" font-size="72.20" fill="#000" font-weight="bold">1M</text>
<text x="0" y="0" transform="translate(154.45,370.90) scale(1,1.061)" font-size="72.20" fill="#000" font-weight="bold">10</text>
<text x="0" y="0" transform="translate(235.60,340.90) scale(1,1.050)" font-size="48.30" fill="#000" font-weight="bold">3</text>
<text x="0" y="0" transform="translate(154.45,771.90) scale(1,1.061)" font-size="72.20" fill="#000" font-weight="bold">10</text>
<text x="0" y="0" transform="translate(235.60,741.90) scale(1,1.050)" font-size="48.30" fill="#000" font-weight="bold">2</text>
<text x="0" y="0" transform="translate(154.45,1172.90) scale(1,1.061)" font-size="72.20" fill="#000" font-weight="bold">10</text>
<text x="0" y="0" transform="translate(235.60,1142.90) scale(1,1.050)" font-size="48.30" fill="#000" font-weight="bold">1</text>
<text x="0" y="0" transform="translate(785.28,1573.80) scale(1,1.050)" font-size="85.50" fill="#000" font-weight="bold">F</text>
<text x="0" y="0" transform="translate(837.51,1573.80) scale(1,0.980)" font-size="85.50" fill="#000" font-weight="bold">requency</text>
<text x="0" y="0" transform="translate(1217.67,1573.80) scale(1,1.050)" font-size="85.50" fill="#000" font-weight="bold"> </text>
<text x="0" y="0" transform="translate(1241.42,1573.80) scale(1,0.980)" font-size="85.50" fill="#000" font-weight="bold">[</text>
<text x="0" y="0" transform="translate(1269.89,1573.80) scale(1,1.050)" font-size="85.50" fill="#000" font-weight="bold">H</text>
<text x="0" y="0" transform="translate(1331.64,1573.80) scale(1,0.980)" font-size="85.50" fill="#000" font-weight="bold">z</text>
<text x="0" y="0" transform="translate(1374.39,1573.80) scale(1,0.980)" font-size="85.50" fill="#000" font-weight="bold">]</text>
<g transform="translate(116.20,992.10) rotate(-90)">
<text x="0" y="0" transform="translate(-3.51,0.00) scale(1,1.050)" font-size="85.50" fill="#000" font-weight="bold">G</text>
<text x="0" y="0" transform="translate(63.00,0.00) scale(1,0.980)" font-size="85.50" fill="#000" font-weight="bold">p</text>
<text x="0" y="0" transform="translate(115.22,0.00) scale(1,1.050)" font-size="85.50" fill="#000" font-weight="bold">/</text>
<text x="0" y="0" transform="translate(138.98,0.00) scale(1,0.980)" font-size="85.50" fill="#000" font-weight="bold">w</text>
<text x="0" y="0" transform="translate(205.48,0.00) scale(1,1.050)" font-size="85.50" fill="#000" font-weight="bold"> </text>
<text x="0" y="0" transform="translate(229.24,0.00) scale(1,0.980)" font-size="85.50" fill="#000" font-weight="bold">[</text>
<text x="0" y="0" transform="translate(257.71,0.00) scale(1,0.980)" font-size="85.50" fill="#000" font-weight="bold">n</text>
<text x="0" y="0" transform="translate(309.94,0.00) scale(1,1.050)" font-size="85.50" fill="#000" font-weight="bold">F/</text>
<text x="0" y="0" transform="translate(385.92,0.00) scale(1,0.980)" font-size="85.50" fill="#000" font-weight="bold">cm</text>
<text x="0" y="0" transform="translate(509.56,-35.30) scale(1,1.074)" font-size="56.00" fill="#000" font-weight="bold">2</text>
<text x="0" y="0" transform="translate(541.16,0.00) scale(1,0.980)" font-size="85.50" fill="#000" font-weight="bold">]</text>
</g>
<text x="0" y="0" transform="translate(452.36,148.00) scale(1,1.054)" font-size="80.00" fill="#000" font-weight="bold">8.98</text>
<text x="0" y="0" transform="translate(636.21,151.60) scale(1,1.000)" font-size="82.00" fill="#000" font-weight="normal">×</text>
<text x="0" y="0" transform="translate(712.26,148.00) scale(1,1.054)" font-size="80.00" fill="#000" font-weight="bold">10</text>
<text x="0" y="0" transform="translate(802.79,123.20) scale(1,1.090)" font-size="51.00" fill="#000" font-weight="bold">13</text>
<text x="0" y="0" transform="translate(884.77,148.00) scale(1,1.000)" font-size="80.00" fill="#000" font-weight="bold">e</text>
<text x="0" y="0" transform="translate(929.27,148.00) scale(1,1.054)" font-size="80.00" fill="#000" font-weight="bold">V</text>
<text x="0" y="0" transform="translate(982.68,123.20) scale(1,1.090)" font-size="51.00" fill="#000" font-weight="bold">−</text>
<text x="0" y="0" transform="translate(1015.29,123.20) scale(1,1.090)" font-size="51.00" fill="#000" font-weight="bold">1</text>
<text x="0" y="0" transform="translate(1046.39,148.00) scale(1,1.054)" font-size="80.00" fill="#000" font-weight="bold">·</text>
<text x="0" y="0" transform="translate(1071.17,148.00) scale(1,1.000)" font-size="80.00" fill="#000" font-weight="bold">cm</text>
<text x="0" y="0" transform="translate(1187.18,123.20) scale(1,1.090)" font-size="51.00" fill="#000" font-weight="bold">−</text>
<text x="0" y="0" transform="translate(1218.43,123.20) scale(1,1.090)" font-size="51.00" fill="#000" font-weight="bold">2</text>
<text x="0" y="0" transform="translate(599.46,655.00) scale(1,1.054)" font-size="80.00" fill="#f00" font-weight="bold">1.12</text>
<text x="0" y="0" transform="translate(783.41,658.60) scale(1,1.000)" font-size="82.00" fill="#f00" font-weight="normal">×</text>
<text x="0" y="0" transform="translate(859.26,655.00) scale(1,1.054)" font-size="80.00" fill="#f00" font-weight="bold">10</text>
<text x="0" y="0" transform="translate(948.89,631.00) scale(1,1.090)" font-size="51.00" fill="#f00" font-weight="bold">12</text>
<text x="0" y="0" transform="translate(1031.58,655.00) scale(1,1.000)" font-size="80.00" fill="#f00" font-weight="bold">e</text>
<text x="0" y="0" transform="translate(1076.07,655.00) scale(1,1.054)" font-size="80.00" fill="#f00" font-weight="bold">V</text>
<text x="0" y="0" transform="translate(1129.48,631.00) scale(1,1.090)" font-size="51.00" fill="#f00" font-weight="bold">−</text>
<text x="0" y="0" transform="translate(1162.49,631.00) scale(1,1.090)" font-size="51.00" fill="#f00" font-weight="bold">1</text>
<text x="0" y="0" transform="translate(1193.19,655.00) scale(1,1.054)" font-size="80.00" fill="#f00" font-weight="bold">·</text>
<text x="0" y="0" transform="translate(1217.97,655.00) scale(1,1.000)" font-size="80.00" fill="#f00" font-weight="bold">cm</text>
<text x="0" y="0" transform="translate(1333.98,631.00) scale(1,1.090)" font-size="51.00" fill="#f00" font-weight="bold">−</text>
<text x="0" y="0" transform="translate(1366.23,631.00) scale(1,1.090)" font-size="51.00" fill="#f00" font-weight="bold">2</text>
<text x="0" y="0" transform="translate(645.43,1010.00) scale(1,1.054)" font-size="80.00" fill="#00f" font-weight="bold">9.39</text>
<text x="0" y="0" transform="translate(829.51,1013.60) scale(1,1.000)" font-size="82.00" fill="#00f" font-weight="normal">×</text>
<text x="0" y="0" transform="translate(905.76,1010.00) scale(1,1.054)" font-size="80.00" fill="#00f" font-weight="bold">10</text>
<text x="0" y="0" transform="translate(994.89,985.00) scale(1,1.090)" font-size="51.00" fill="#00f" font-weight="bold">11</text>
<text x="0" y="0" transform="translate(1074.38,1010.00) scale(1,1.000)" font-size="80.00" fill="#00f" font-weight="bold">e</text>
<text x="0" y="0" transform="translate(1118.87,1010.00) scale(1,1.054)" font-size="80.00" fill="#00f" font-weight="bold">V</text>
<text x="0" y="0" transform="translate(1172.88,985.00) scale(1,1.090)" font-size="51.00" fill="#00f" font-weight="bold">−</text>
<text x="0" y="0" transform="translate(1204.29,985.00) scale(1,1.090)" font-size="51.00" fill="#00f" font-weight="bold">1</text>
<text x="0" y="0" transform="translate(1236.49,1010.00) scale(1,1.054)" font-size="80.00" fill="#00f" font-weight="bold">·</text>
<text x="0" y="0" transform="translate(1260.88,1010.00) scale(1,1.000)" font-size="80.00" fill="#00f" font-weight="bold">cm</text>
<text x="0" y="0" transform="translate(1376.88,985.00) scale(1,1.090)" font-size="51.00" fill="#00f" font-weight="bold">−</text>
<text x="0" y="0" transform="translate(1408.23,985.00) scale(1,1.090)" font-size="51.00" fill="#00f" font-weight="bold">2</text>
<text x="0" y="0" transform="translate(923.96,1107.00) scale(1,1.054)" font-size="80.00" fill="#008000" font-weight="bold">1.35</text>
<text x="0" y="0" transform="translate(1107.11,1110.60) scale(1,1.000)" font-size="82.00" fill="#008000" font-weight="normal">×</text>
<text x="0" y="0" transform="translate(1184.36,1107.00) scale(1,1.054)" font-size="80.00" fill="#008000" font-weight="bold">10</text>
<text x="0" y="0" transform="translate(1273.59,1082.00) scale(1,1.090)" font-size="51.00" fill="#008000" font-weight="bold">11</text>
<text x="0" y="0" transform="translate(1352.67,1107.00) scale(1,1.000)" font-size="80.00" fill="#008000" font-weight="bold">e</text>
<text x="0" y="0" transform="translate(1397.17,1107.00) scale(1,1.054)" font-size="80.00" fill="#008000" font-weight="bold">V</text>
<text x="0" y="0" transform="translate(1451.68,1082.00) scale(1,1.090)" font-size="51.00" fill="#008000" font-weight="bold">−</text>
<text x="0" y="0" transform="translate(1483.99,1082.00) scale(1,1.090)" font-size="51.00" fill="#008000" font-weight="bold">1</text>
<text x="0" y="0" transform="translate(1515.79,1107.00) scale(1,1.054)" font-size="80.00" fill="#008000" font-weight="bold">·</text>
<text x="0" y="0" transform="translate(1538.78,1107.00) scale(1,1.000)" font-size="80.00" fill="#008000" font-weight="bold">cm</text>
<text x="0" y="0" transform="translate(1656.08,1082.00) scale(1,1.090)" font-size="51.00" fill="#008000" font-weight="bold">−</text>
<text x="0" y="0" transform="translate(1687.73,1082.00) scale(1,1.090)" font-size="51.00" fill="#008000" font-weight="bold">2</text>
</svg>
</body></html>
